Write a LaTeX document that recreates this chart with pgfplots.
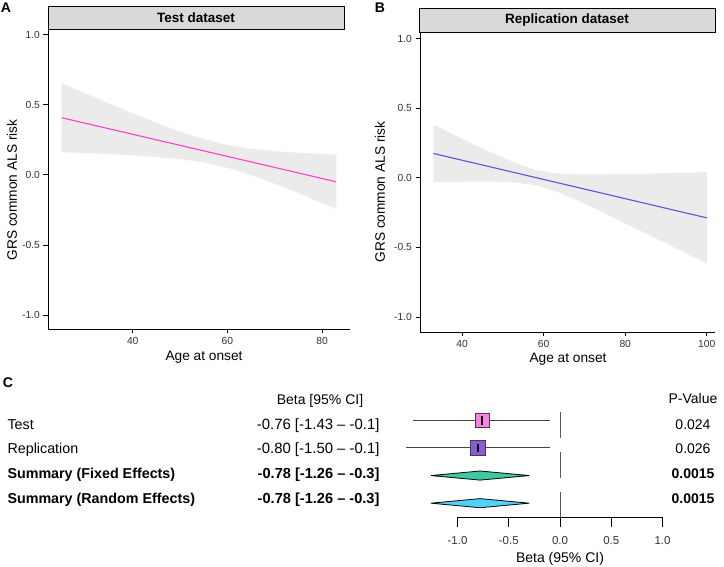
\documentclass[border=0pt]{standalone}
\usepackage{pgfplots}
\pgfplotsset{compat=1.18}
\usepackage{fontspec}
\setmainfont{Liberation Sans}

\definecolor{stripfill}{HTML}{D9D9D9}
\definecolor{band}{HTML}{EBEBEB}
\definecolor{lineA}{HTML}{FF3FCF}
\definecolor{lineB}{HTML}{7445DE}
\definecolor{boxA}{HTML}{FF80E3}
\definecolor{boxB}{HTML}{8A5CD6}
\definecolor{fixedc}{HTML}{3CCBA0}
\definecolor{randomc}{HTML}{4FD3F7}
\definecolor{ticktext}{HTML}{333333}
\definecolor{cigray}{HTML}{444444}

\newcommand{\fs}[1]{\fontsize{#1}{#1}\selectfont}

\pgfplotsset{
  panel/.style={
    scale only axis, anchor=south west,
    axis x line*=bottom, axis y line*=left,
    x axis line style={-}, y axis line style={-},
    axis line style={black, line width=0.8pt},
    tick align=outside, major tick length=4.5pt,
    tick style={black, line width=0.7pt},
    ticklabel style={font=\fs{10.3}, text=ticktext},
    ytick={-1,-0.5,0,0.5,1},
    yticklabels={-1.0,-0.5,0.0,0.5,1.0},
  }
}

\begin{document}
\begin{tikzpicture}[x=1pt,y=1pt]
\useasboundingbox (0,0) rectangle (724,567);

% ---------------- Panel A ----------------
\begin{axis}[panel, at={(48pt,238pt)}, width=302pt, height=300pt,
  xmin=22.1, xmax=85.9, ymin=-1.1, ymax=1.04,
  xtick={40,60,80}, xticklabels={40,60,80}]
% confidence band: upper edge left to right, lower edge right to left
\addplot[fill=band, draw=none] coordinates {(25,0.653) (30,0.581) (35,0.509) (40,0.439) (45,0.371) (50,0.308) (55,0.254) (60,0.212) (65,0.186) (70,0.168) (75,0.157) (80,0.149) (83,0.144)
 (83,-0.244) (80,-0.201) (75,-0.131) (70,-0.064) (65,-0.002) (60,0.050) (55,0.088) (50,0.112) (45,0.127) (40,0.139) (35,0.147) (30,0.155) (25,0.161)} -- cycle;
\addplot[lineA, line width=1.1pt] coordinates {(25,0.407) (83,-0.050)};
\end{axis}

% ---------------- Panel B ----------------
\begin{axis}[panel, at={(420pt,235pt)}, width=295pt, height=300pt,
  xmin=29.7, xmax=102, ymin=-1.108, ymax=1.048,
  xtick={40,60,80,100}, xticklabels={40,60,80,100}]
\addplot[fill=band, draw=none] coordinates {(33,0.382) (38,0.309) (43,0.239) (48,0.170) (53,0.107) (58,0.057) (63,0.033) (68,0.025) (73,0.025) (78,0.026) (83,0.028) (88,0.032) (93,0.035) (100,0.041)
 (100,-0.617) (93,-0.515) (88,-0.442) (83,-0.370) (78,-0.298) (73,-0.227) (68,-0.159) (63,-0.097) (58,-0.053) (53,-0.033) (48,-0.028) (43,-0.027) (38,-0.029) (33,-0.032)} -- cycle;
\addplot[lineB, line width=1.1pt] coordinates {(33,0.175) (100,-0.288)};
\end{axis}

% strips
\draw[fill=stripfill, line width=0.8pt] (48,538) rectangle (344,561);
\node[font=\fs{13.5}\bfseries] at (196,549.5) {Test dataset};
\draw[fill=stripfill, line width=0.8pt] (419,535) rectangle (715,559);
\node[font=\fs{13.5}\bfseries] at (567,547) {Replication dataset};

% panel letters
\node[font=\fs{14}\bfseries] at (6,559) {A};
\node[font=\fs{14}\bfseries] at (380,559) {B};
\node[font=\fs{14}\bfseries, anchor=base] at (8,179) {C};

% axis titles
\node[font=\fs{13.7}, rotate=90] at (12,377) {GRS common ALS risk};
\node[font=\fs{13.7}, rotate=90] at (380,375) {GRS common ALS risk};
\node[font=\fs{13.7}] at (204,210) {Age at onset};
\node[font=\fs{13.7}] at (568,208) {Age at onset};

% ---------------- Panel C (forest) ----------------
\begin{axis}[scale only axis, anchor=south west, at={(457.5pt,50pt)},
  width=205pt, height=110.5pt, xmin=-1, xmax=1, ymin=0.5, ymax=4.5,
  clip=false, axis x line*=bottom, axis y line=none,
  x axis line style={-}, axis line style={black, line width=0.8pt},
  xtick={-1,-0.5,0,0.5,1}, xticklabels={-1.0,-0.5,0.0,0.5,1.0},
  tick align=outside, major tick length=10pt,
  tick style={black, line width=0.8pt},
  xticklabel style={font=\fs{11.5}, text=ticktext, yshift=-6pt}]
\addplot[black!65, line width=0.9pt, dash pattern=on 26.6pt off 13.3pt] coordinates {(0,4.31) (0,0.5)};
% Test
\addplot[cigray, line width=1pt] coordinates {(-1.43,4) (-0.1,4)};
\addplot[only marks, mark=square*, mark size=7.2pt, mark options={fill=boxA, draw=black!75, line width=0.8pt}] coordinates {(-0.76,4)};
\addplot[only marks, mark=|, mark size=4.2pt, mark options={line width=2pt, black}] coordinates {(-0.76,4)};
% Replication
\addplot[cigray, line width=1pt] coordinates {(-1.50,3) (-0.1,3)};
\addplot[only marks, mark=square*, mark size=7.2pt, mark options={fill=boxB, draw=black!75, line width=0.8pt}] coordinates {(-0.80,3)};
\addplot[only marks, mark=|, mark size=4.2pt, mark options={line width=2pt, black}] coordinates {(-0.80,3)};
% Summary fixed
\addplot[fill=fixedc, draw=black, line width=0.8pt] coordinates {(-1.26,2) (-0.78,2.165) (-0.3,2) (-0.78,1.835)} -- cycle;
% Summary random
\addplot[fill=randomc, draw=black, line width=0.8pt] coordinates {(-1.26,1) (-0.78,1.165) (-0.3,1) (-0.78,0.835)} -- cycle;
\end{axis}

\node[font=\fs{14}] at (560,8) {Beta (95\% CI)};

% forest text columns
\node[font=\fs{14}, anchor=base] at (320,162) {Beta [95\% CI]};
\node[font=\fs{14}, anchor=base] at (693,163) {P-Value};

\node[font=\fs{14.3}, anchor=base west] at (4,137) {Test};
\node[font=\fs{14.3}, anchor=base west] at (4,113.7) {Replication};
\node[font=\fs{14.3}\bfseries, anchor=base west] at (4,88.7) {Summary (Fixed Effects)};
\node[font=\fs{14.3}\bfseries, anchor=base west] at (4,63.7) {Summary (Random Effects)};

\node[font=\fs{14.9}, anchor=base east] at (383,137) {-0.76 [-1.43 -- -0.1]};
\node[font=\fs{14.9}, anchor=base east] at (383,113.7) {-0.80 [-1.50 -- -0.1]};
\node[font=\fs{14.6}\bfseries, anchor=base east] at (383,88.7) {-0.78 [-1.26 -- -0.3]};
\node[font=\fs{14.6}\bfseries, anchor=base east] at (383,63.7) {-0.78 [-1.26 -- -0.3]};

\node[font=\fs{14}, anchor=base] at (693,137) {0.024};
\node[font=\fs{14}, anchor=base] at (693,113.7) {0.026};
\node[font=\fs{14}\bfseries, anchor=base] at (693,88.7) {0.0015};
\node[font=\fs{14}\bfseries, anchor=base] at (693,63.7) {0.0015};

\end{tikzpicture}
\end{document}
